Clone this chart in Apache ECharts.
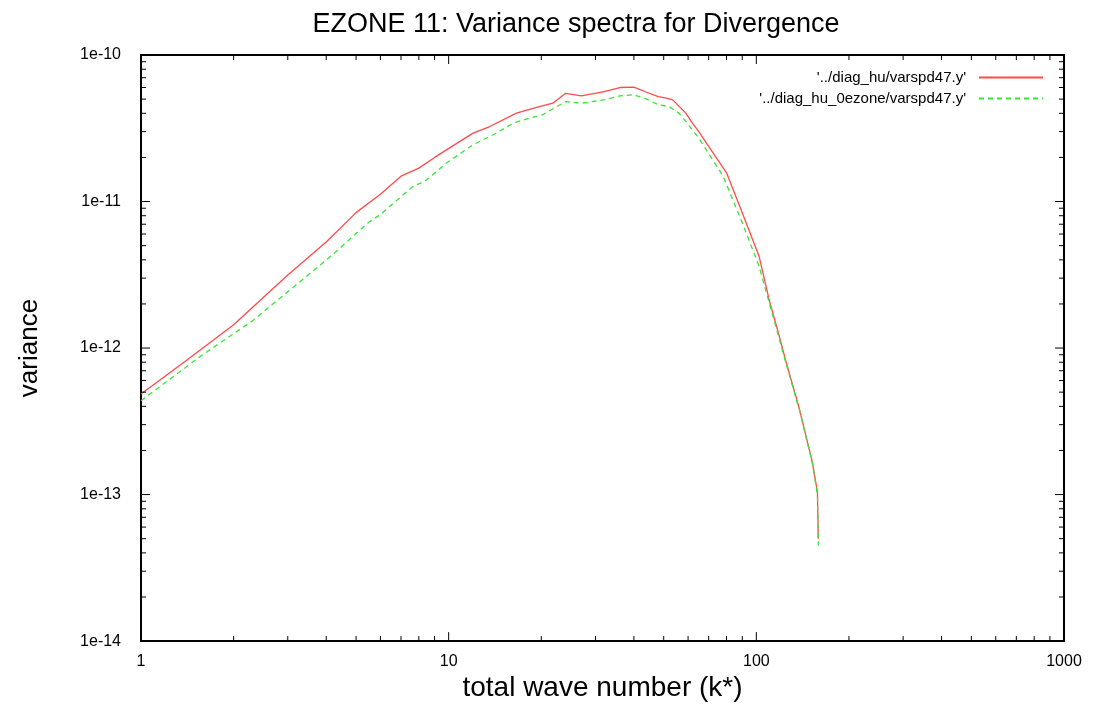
<!DOCTYPE html>
<html>
<head>
<meta charset="utf-8">
<title>EZONE 11: Variance spectra for Divergence</title>
<script src="https://cdn.jsdelivr.net/npm/echarts@6/dist/echarts.min.js"></script>
<style>
  html, body { margin: 0; padding: 0; background: #fff; }
  #chart { width: 1101px; height: 707px; }
</style>
</head>
<body>
<div id="chart"></div>
<script>
const redK = [1, 1.4, 2, 3, 4, 5, 6, 7, 8, 9, 12, 13.6, 16.6, 19.7, 21.8, 24, 27, 32, 36, 40, 44, 48, 51, 53.5, 59, 62, 65, 70, 80, 90, 102, 110, 117, 125, 138, 152, 158, 159];
const redVar = [4.86e-13, 8.2e-13, 1.44e-12, 3.15e-12, 5.3e-12, 8.4e-12, 1.12e-11, 1.49e-11, 1.69e-11, 2.0e-11, 2.93e-11, 3.25e-11, 4.01e-11, 4.45e-11, 4.69e-11, 5.48e-11, 5.26e-11, 5.62e-11, 6.0e-11, 6.03e-11, 5.57e-11, 5.2e-11, 5.07e-11, 4.94e-11, 4.01e-11, 3.43e-11, 3.0e-11, 2.38e-11, 1.57e-11, 8.37e-12, 4.25e-12, 2.15e-12, 1.35e-12, 8.0e-13, 3.85e-13, 1.67e-13, 1.04e-13, 5.0e-14];

const greenK = [1, 1.57, 2.29, 3.16, 4.27, 5.47, 6, 7.66, 8.36, 9.83, 12, 14.3, 16.2, 18.3, 20.2, 24, 27, 32, 36, 40, 44, 48, 52, 56, 59, 65, 78, 90, 102, 116, 125, 138, 152, 158, 159];
const greenVar = [4.37e-13, 8.87e-13, 1.52e-12, 2.65e-12, 4.48e-12, 7.16e-12, 8.17e-12, 1.27e-11, 1.37e-11, 1.83e-11, 2.44e-11, 2.93e-11, 3.43e-11, 3.71e-11, 3.91e-11, 4.81e-11, 4.69e-11, 4.94e-11, 5.26e-11, 5.35e-11, 5.0e-11, 4.57e-11, 4.45e-11, 4.01e-11, 3.52e-11, 2.71e-11, 1.49e-11, 7.16e-12, 3.63e-12, 1.38e-12, 7.8e-13, 3.8e-13, 1.65e-13, 1.0e-13, 4.5e-14];

const redName = "'../diag_hu/varspd47.y'";
const greenName = "'../diag_hu_0ezone/varspd47.y'";

// tick positions (gnuplot style: inside, mirrored on all four sides)
const xMajorTicks = [10, 100];
const xMinorTicks = [2, 3, 4, 5, 6, 7, 8, 9, 20, 30, 40, 50, 60, 70, 80, 90, 200, 300, 400, 500, 600, 700, 800, 900];
const yMajorTicks = [1e-13, 1e-12, 1e-11];
const yMinorTicks = [];
[1e-14, 1e-13, 1e-12, 1e-11].forEach(function (d) {
  for (let m = 2; m <= 9; m++) yMinorTicks.push(+(m * d).toPrecision(2));
});

const font = 'Liberation Sans, Arial, sans-serif';

function pairs(xs, ys) {
  return xs.map(function (x, i) { return [x, ys[i]]; });
}

const tickData = []
  .concat(xMajorTicks.map(v => [v, 1e-12, 0, 1]))
  .concat(xMinorTicks.map(v => [v, 1e-12, 0, 0]))
  .concat(yMajorTicks.map(v => [10, v, 1, 1]))
  .concat(yMinorTicks.map(v => [10, v, 1, 0]));

function renderTick(params, api) {
  const cs = params.coordSys;
  const pt = api.coord([api.value(0), api.value(1)]);
  const isY = api.value(2) === 1;
  const len = api.value(3) === 1 ? 9 : 5;
  const style = { stroke: '#000', lineWidth: 1 };
  let a, b;
  if (!isY) {
    a = { x1: pt[0], y1: cs.y + cs.height, x2: pt[0], y2: cs.y + cs.height - len };
    b = { x1: pt[0], y1: cs.y, x2: pt[0], y2: cs.y + len };
  } else {
    a = { x1: cs.x, y1: pt[1], x2: cs.x + len, y2: pt[1] };
    b = { x1: cs.x + cs.width, y1: pt[1], x2: cs.x + cs.width - len, y2: pt[1] };
  }
  return {
    type: 'group',
    children: [
      { type: 'line', shape: a, style: style },
      { type: 'line', shape: b, style: style }
    ]
  };
}

const chart = echarts.init(document.getElementById('chart'));
chart.setOption({
  animation: false,
  backgroundColor: '#fff',
  title: {
    text: 'EZONE 11: Variance spectra for Divergence',
    left: 571,
    top: 6,
    textAlign: 'center',
    textStyle: { fontFamily: font, fontSize: 27, fontWeight: 'normal', color: '#000' }
  },
  legend: {
    data: [redName, greenName],
    orient: 'vertical',
    align: 'right',
    right: 52,
    top: 65,
    itemWidth: 64,
    itemHeight: 10,
    itemGap: 6,
    itemStyle: { opacity: 0 },
    textStyle: { fontFamily: font, fontSize: 15, color: '#000', padding: [0, 8, 0, 0] }
  },
  grid: {
    left: 141,
    right: 37,
    top: 55,
    bottom: 64,
    show: true,
    borderColor: '#000',
    borderWidth: 2,
    containLabel: false
  },
  xAxis: {
    type: 'log',
    logBase: 10,
    min: 1,
    max: 1000,
    name: 'total wave number (k*)',
    nameLocation: 'middle',
    nameGap: 32,
    nameTextStyle: { fontFamily: font, fontSize: 28, color: '#000' },
    axisLine: { show: true, lineStyle: { color: '#000', width: 2 } },
    axisTick: { show: false },
    splitLine: { show: false },
    axisLabel: {
      margin: 12,
      fontFamily: font,
      fontSize: 16,
      color: '#000',
      formatter: function (v) { return String(Math.round(v)); }
    }
  },
  yAxis: {
    type: 'log',
    logBase: 10,
    min: 1e-14,
    max: 1e-10,
    name: 'variance',
    nameLocation: 'middle',
    nameRotate: 90,
    nameGap: 98,
    nameTextStyle: { fontFamily: font, fontSize: 26, color: '#000' },
    axisLine: { show: true, lineStyle: { color: '#000', width: 2 } },
    axisTick: { show: false },
    splitLine: { show: false },
    axisLabel: {
      margin: 20,
      fontFamily: font,
      fontSize: 16,
      color: '#000',
      formatter: function (v) { return v.toExponential(0); }
    }
  },
  series: [
    {
      name: redName,
      type: 'line',
      data: pairs(redK, redVar),
      symbol: 'none',
      lineStyle: { color: '#ff4a4a', width: 1.3 },
      itemStyle: { color: '#ff4a4a' },
      z: 3
    },
    {
      name: greenName,
      type: 'line',
      data: pairs(greenK, greenVar),
      symbol: 'none',
      lineStyle: { color: '#33e833', width: 1.3, type: [5, 4] },
      itemStyle: { color: '#33e833' },
      z: 4
    },
    {
      name: 'ticks',
      type: 'custom',
      renderItem: renderTick,
      data: tickData,
      silent: true,
      z: 5
    }
  ]
});
</script>
</body>
</html>
